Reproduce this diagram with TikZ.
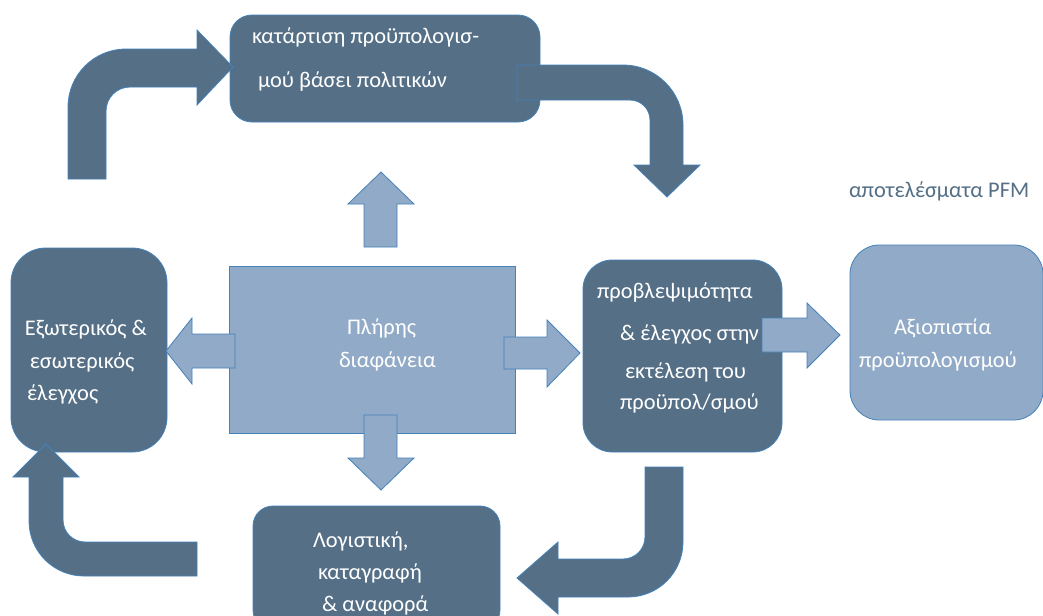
\documentclass[tikz,border=0pt]{standalone}
\usepackage{fontspec}
\setmainfont{Carlito}
\definecolor{slate}{RGB}{84,111,134}
\definecolor{pale}{RGB}{145,170,199}
\definecolor{edge}{RGB}{68,130,186}
\begin{document}
\begin{tikzpicture}[x=0.75pt,y=0.75pt,
  every node/.style={inner sep=0pt,outer sep=0pt},
  size/.style 2 args={minimum width=#1*0.75pt,minimum height=#2*0.75pt},
  darkbox/.style={rectangle,draw=edge,line width=0.6pt,fill=slate,rounded corners=#1},
  palebox/.style={rectangle,draw=edge,line width=0.6pt,fill=pale,rounded corners=#1},
  darkarrow/.style={fill=slate,draw=edge,line width=0.6pt,line join=miter},
  palearrow/.style={fill=pale,draw=edge,line width=0.6pt,line join=miter},
  lbl/.style={text=white,font=\fontsize{16.8}{20}\selectfont},
  note/.style={text=slate,font=\fontsize{16.8}{20}\selectfont}]

\clip (0,0) rectangle (1043,-615);
\fill[white] (0,0) rectangle (1043,-615);

% process boxes
\node[darkbox=16.5pt,size={310}{107}] (plan) at (385,-68.5) {};
\node[darkbox=26pt,size={156}{204}] (audit) at (89,-350) {};
\node[palebox=0pt,size={286}{167}] (transp) at (372,-349.5) {};
\node[darkbox=22pt,size={199}{192}] (exec) at (682.5,-356) {};
\node[palebox=22pt,size={193}{175}] (cred) at (946.5,-332.5) {};
\node[darkbox=15pt,size={247}{124}] (acct) at (376.5,-568) {};

% bent arrows of the budget cycle
\filldraw[darkarrow] (68,-179) -- (68,-107) arc[start angle=180,end angle=90,radius=58]
  -- (197,-49) -- (197,-30) -- (233,-67) -- (197,-105) -- (197,-87) -- (130,-87)
  arc[start angle=90,end angle=180,radius=24] -- (106,-179) -- cycle;
\filldraw[darkarrow] (517,-65) -- (623,-65) arc[start angle=90,end angle=0,radius=60]
  -- (683,-165) -- (700,-165) -- (667,-197) -- (634,-165) -- (650,-165) -- (650,-120)
  arc[start angle=0,end angle=90,radius=20] -- (517,-100) -- cycle;
\filldraw[darkarrow] (645,-467) -- (683,-467) -- (683,-542)
  arc[start angle=0,end angle=-90,radius=55] -- (558,-597) -- (558,-614) -- (517,-578)
  -- (558,-542) -- (558,-559) -- (623,-559) arc[start angle=-90,end angle=0,radius=22]
  -- cycle;
\filldraw[darkarrow] (197,-542) -- (85,-542) arc[start angle=270,end angle=180,radius=22]
  -- (63,-477) -- (79,-477) -- (46,-444) -- (13,-477) -- (29,-477) -- (29,-521)
  arc[start angle=180,end angle=270,radius=55] -- (197,-576) -- cycle;

% straight arrows out of the transparency block
\filldraw[palearrow] (364,-247) -- (364,-204) -- (348,-204) -- (381,-172) -- (414,-204) -- (397,-204) -- (397,-247) -- cycle;
\filldraw[palearrow] (364,-415) -- (364,-458) -- (348,-458) -- (381,-490) -- (414,-458) -- (397,-458) -- (397,-415) -- cycle;
\filldraw[palearrow] (235,-334) -- (192,-334) -- (192,-318) -- (166,-351) -- (192,-384) -- (192,-368) -- (235,-368) -- cycle;
\filldraw[palearrow] (504,-337) -- (547,-337) -- (547,-320) -- (580,-353) -- (547,-387) -- (547,-369) -- (504,-369) -- cycle;
\filldraw[palearrow] (762,-318) -- (807,-318) -- (807,-303) -- (840,-335) -- (807,-368) -- (807,-352) -- (762,-352) -- cycle;

% labels
\node[lbl,anchor=base west] (plan1) at (252,-43) {κατάρτιση προϋπολογισ-};
\node[lbl,anchor=base west] (plan2) at (258,-87) {μού βάσει πολιτικών};
\node[lbl,anchor=base west] (audit1) at (25,-335) {Εξωτερικός \&};
\node[lbl,anchor=base west] (audit2) at (30,-368) {εσωτερικός};
\node[lbl,anchor=base west] (audit3) at (27,-400) {έλεγχος};
\node[lbl,anchor=base west] (transp1) at (347,-334) {Πλήρης};
\node[lbl,anchor=base west] (transp2) at (339,-367) {διαφάνεια};
\node[lbl,anchor=base west] (exec1) at (597,-298) {προβλεψιμότητα};
\node[lbl,anchor=base west] (exec2) at (620,-340) {\& έλεγχος στην};
\node[lbl,anchor=base west] (exec3) at (625,-378) {εκτέλεση του};
\node[lbl,anchor=base west] (exec4) at (620,-409) {προϋπολ/σμού};
\node[lbl,anchor=base west] (cred1) at (894,-334) {Αξιοπιστία};
\node[lbl,anchor=base west] (cred2) at (859,-367) {προϋπολογισμού};
\node[note,anchor=base west] (result) at (849,-197) {αποτελέσματα PFM};
\node[lbl,anchor=base west] (acct1) at (313,-547) {Λογιστική,};
\node[lbl,anchor=base west] (acct2) at (318,-579) {καταγραφή};
\node[lbl,anchor=base west] (acct3) at (322,-611) {\& αναφορά};
\end{tikzpicture}
\end{document}
